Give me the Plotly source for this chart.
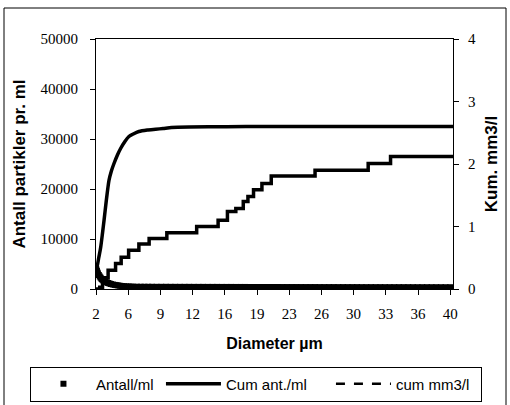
import plotly.graph_objects as go

# ---- data ----
x_tick_labels = ["2", "6", "9", "12", "16", "19", "23", "26", "30", "33", "36", "40"]
y_left_ticks = [0, 10000, 20000, 30000, 40000, 50000]
y_right_ticks = [0, 1, 2, 3, 4]
series_names = ["Antall/ml", "Cum ant./ml", "cum mm3/l"]

antall_x = [2.0, 2.05, 2.1, 2.15, 2.2, 2.3, 2.4, 2.5, 2.6, 2.7, 2.8, 2.9, 3.0, 3.15,
            3.3, 3.45, 3.6, 3.8, 4.0, 4.2, 4.4, 4.6, 4.8, 5.0, 5.25, 5.5, 5.75, 6.0,
            6.4, 6.8, 7.2, 7.6, 8.0, 8.5, 9.0, 9.5, 10.0, 10.5, 11.0, 11.5, 12.0,
            12.5, 13.0, 13.5, 14.0, 14.5, 15.0, 15.5, 16.0, 16.5, 17.0, 17.5, 18.0,
            18.5, 19.0, 19.5, 20.0, 20.5, 21.0, 21.5, 22.0, 22.5, 23.0, 23.5, 24.0,
            24.5, 25.0, 25.5, 26.0, 26.5, 27.0, 27.5, 28.0, 28.5, 29.0, 29.5, 30.0,
            30.5, 31.0, 31.5, 32.0, 32.5, 33.0, 33.5, 34.0, 34.5, 35.0, 35.5, 36.0,
            36.5, 37.0, 37.5, 38.0, 38.5, 39.0, 39.5, 40.0]
antall_y = [4200, 3900, 3600, 3300, 3100, 2800, 2500, 2250, 2000, 1850, 1700, 1550, 1450, 1320,
            1200, 1100, 1000, 900, 820, 760, 700, 640, 590, 550, 520, 500, 480, 460,
            455, 450, 450, 445, 445, 440, 440, 440, 435, 435, 430, 430, 430,
            425, 425, 425, 420, 420, 420, 415, 415, 415, 410, 410, 410,
            405, 405, 405, 400, 400, 400, 400, 395, 395, 395, 395, 390,
            390, 390, 390, 385, 385, 385, 385, 380, 380, 380, 380, 380,
            375, 375, 375, 375, 375, 370, 370, 370, 370, 370, 370, 365,
            365, 365, 365, 365, 365, 360, 360, 360]

cum_ant_x = [2.0, 2.14, 2.3, 2.5, 2.7, 2.86, 3.1, 3.39, 3.65, 3.93, 4.3, 4.64, 5.1, 5.53,
             6.0, 6.6, 7.5, 8.4, 9.2, 10.1, 12.0, 16.0, 20.0, 30.0, 40.3]
cum_ant_y = [4000, 4700, 6300, 8300, 11200, 13700, 17600, 21700, 23600, 25100, 26800, 28100,
             29500, 30500, 31000, 31500, 31800, 31950, 32100, 32300, 32400, 32450, 32500,
             32500, 32500]

cum_mm3_x = [2.0, 2.4, 2.7, 3.0, 3.3, 4.1, 4.7, 5.5, 6.6, 7.7, 9.6, 12.8, 15.1, 16.1, 17.0,
             17.8, 18.3, 18.9, 19.8, 20.8, 25.5, 31.2, 33.6, 40.3]
cum_mm3_y = [0.0, 0.03, 0.10, 0.18, 0.30, 0.41, 0.51, 0.62, 0.72, 0.81, 0.90, 1.00, 1.10,
             1.24, 1.29, 1.40, 1.48, 1.59, 1.69, 1.81, 1.90, 2.01, 2.12, 2.12]

x_min, x_max = 2.0, 40.3
tick_step = (40.0 - 2.0) / (len(x_tick_labels) - 1)
x_tick_vals = [2.0 + i * tick_step for i in range(len(x_tick_labels))]

SANS = "Liberation Sans"
SERIF = "Liberation Serif"

fig = go.Figure()
fig.add_trace(go.Scatter(
    x=antall_x, y=antall_y, mode="markers", name=series_names[0], legendwidth=60,
    marker=dict(symbol="square", size=6, color="black", line=dict(width=0)),
))
fig.add_trace(go.Scatter(
    x=cum_ant_x, y=cum_ant_y, mode="lines", name=series_names[1], legendwidth=100,
    line=dict(color="black", width=3.5, shape="spline", smoothing=0.6),
))
fig.add_trace(go.Scatter(
    x=cum_mm3_x, y=cum_mm3_y, mode="lines", name=series_names[2], yaxis="y2",
    line=dict(color="black", width=3.5, shape="hv"), showlegend=False,
))
fig.add_trace(go.Scatter(
    x=[None], y=[None], mode="lines", name=series_names[2], yaxis="y2", legendwidth=80,
    line=dict(color="black", width=2.5, dash="dash"),
))

tickfont = dict(family=SERIF, size=15, color="black")

fig.update_layout(
    width=510, height=405,
    margin=dict(l=96, r=57, t=39, b=116, autoexpand=False),
    paper_bgcolor="white", plot_bgcolor="white",
    font=dict(family=SANS, color="black"),
    xaxis=dict(
        range=[x_min, x_max], tickvals=x_tick_vals, ticktext=x_tick_labels,
        ticks="outside", ticklen=5, tickcolor="black", automargin=False,
        showline=True, linecolor="black", linewidth=1, mirror=True,
        showgrid=False, zeroline=False,
        tickfont=tickfont, ticklabelstandoff=6,
        title=dict(text="<b>Diameter µm</b>", font=dict(family=SANS, size=16), standoff=16),
    ),
    yaxis=dict(
        range=[0, 50000], tickvals=y_left_ticks, ticktext=[str(v) for v in y_left_ticks],
        ticks="outside", ticklen=5, tickcolor="black", automargin=False,
        showline=True, linecolor="black", linewidth=1,
        showgrid=False, zeroline=False,
        tickfont=tickfont, ticklabelstandoff=9,
        title=dict(text="<b>Antall partikler pr. ml</b>", font=dict(family=SANS, size=17), standoff=10),
    ),
    yaxis2=dict(
        range=[0, 4], tickvals=y_right_ticks, ticktext=[str(v) for v in y_right_ticks],
        overlaying="y", side="right",
        ticks="outside", ticklen=5, tickcolor="black", automargin=False,
        showline=True, linecolor="black", linewidth=1,
        showgrid=False, zeroline=False,
        tickfont=tickfont, ticklabelstandoff=6,
        title=dict(text="<b>Kum. mm3/l</b>", font=dict(family=SANS, size=17), standoff=10),
    ),
    legend=dict(
        orientation="h", x=-0.185, y=-0.31, xanchor="left", yanchor="top",
        bordercolor="black", borderwidth=1, bgcolor="white",
        font=dict(family=SANS, size=15, color="black"),
        itemwidth=55, tracegroupgap=0,
    ),
    shapes=[dict(
        type="rect", xref="paper", yref="paper",
        x0=-0.2577, x1=1.1485, y0=-0.47, y1=1.124,
        line=dict(color="black", width=1),
    )],
)

fig.write_html(
    "out.html",
    config={"displayModeBar": False},
    post_script="document.body.style.margin='0';document.body.style.overflow='hidden';",
)
